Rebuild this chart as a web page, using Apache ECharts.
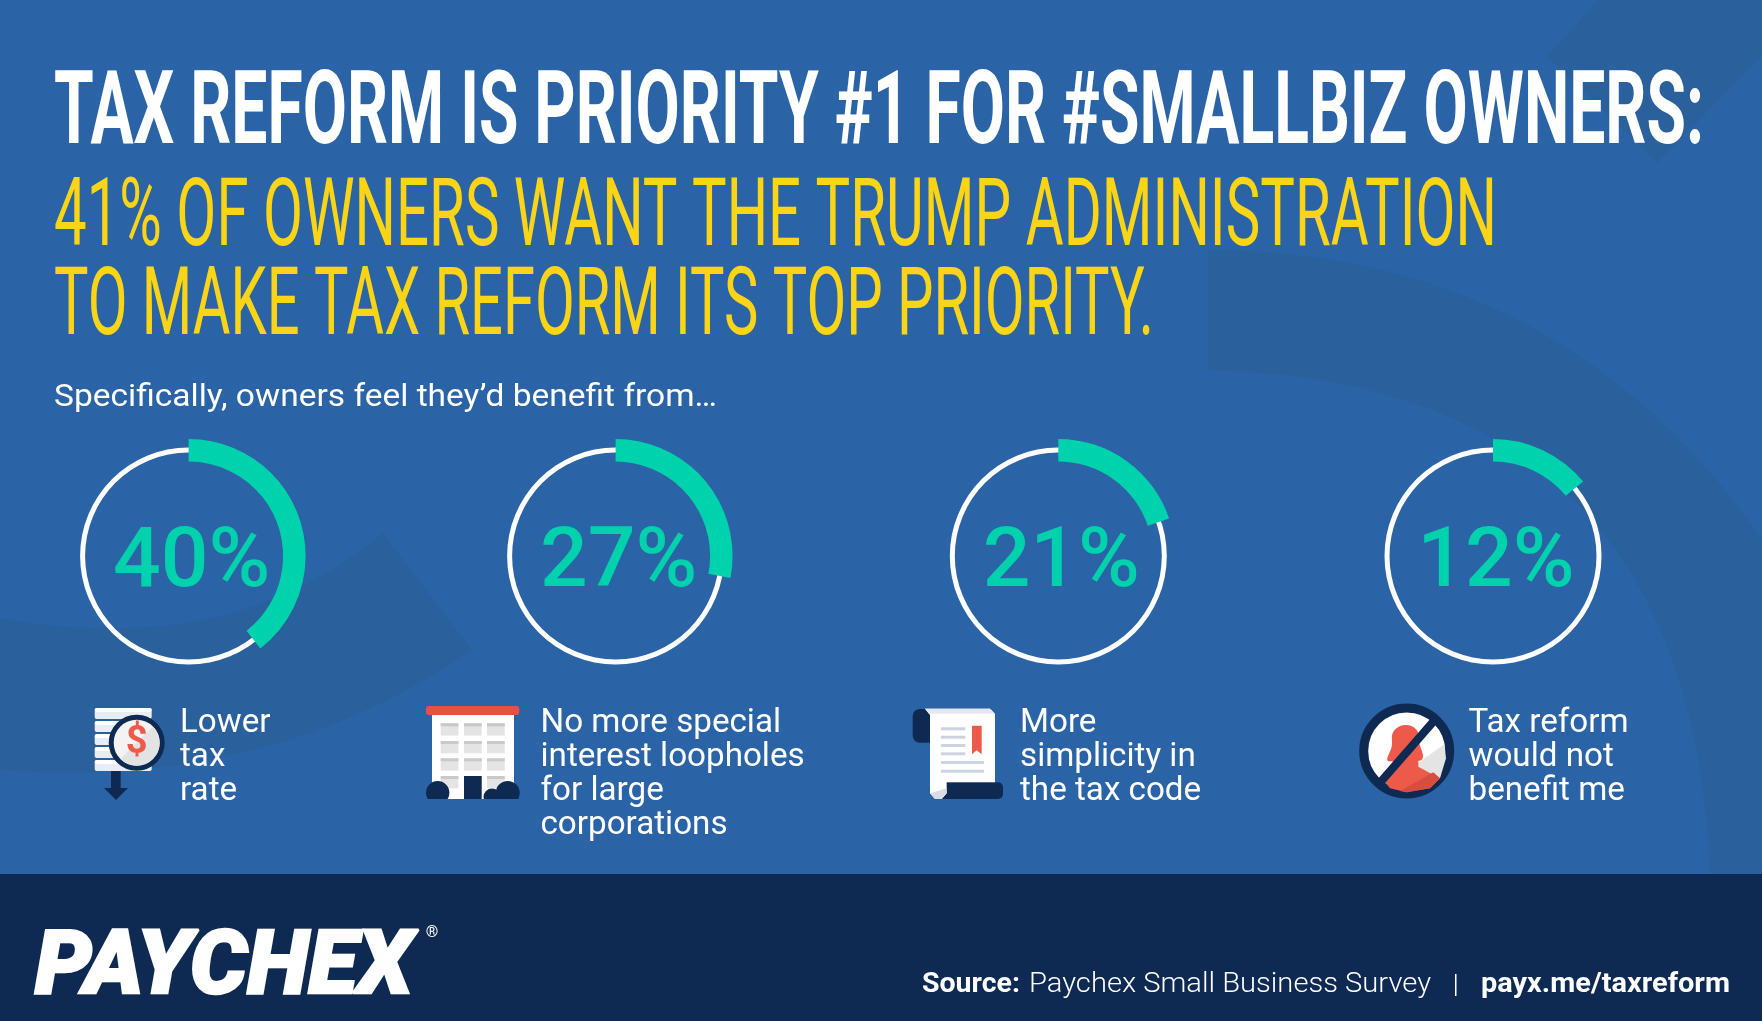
<!DOCTYPE html>
<html>
<head>
<meta charset="utf-8">
<script src="https://cdn.jsdelivr.net/npm/echarts@6/dist/echarts.min.js"></script>
<style>
  html, body { margin: 0; padding: 0; background: #2b64a6; }
  #chart { width: 1762px; height: 1021px; }
</style>
</head>
<body>
<div id="chart"></div>
<script>
// Data
var shareLabels = ['40%', '27%', '21%', '12%'];
// the arcs are not drawn quite to the printed numbers, these are the measured sweeps
var arcShares = [39.5, 28, 19.8, 14];
var centersX = [188.6, 615.6, 1058.3, 1493];
var captions = [
  ['Lower', 'tax', 'rate'],
  ['No more special', 'interest loopholes', 'for large', 'corporations'],
  ['More', 'simplicity in', 'the tax code'],
  ['Tax reform', 'would not', 'benefit me']
];
var captionX = [180, 540.5, 1020, 1468.5];

var BG = '#2b64a6', SHADE = '#2a619d', NAVY = '#0f2a52', GREEN = '#00d2ad', YELLOW = '#fbd415', RED = '#ee5a4a';
var FONT = 'Roboto, sans-serif';
var CY = 556;

var ctx = document.createElement('canvas').getContext('2d');
function fitX(text, weight, size, width) {
  ctx.font = weight + ' ' + size + 'px Roboto';
  return width / ctx.measureText(text).width;
}
function txt(text, x, y, size, weight, fill, width, align) {
  var el = {
    type: 'text', x: x, y: y, silent: true,
    style: { text: text, fontFamily: FONT, fontSize: size, fontWeight: weight, fill: fill,
      align: align || 'left', verticalAlign: 'middle' }
  };
  if (width) el.scaleX = fitX(text, weight, size, width);
  return el;
}
function rect(x, y, w, h, fill, r) {
  return { type: 'rect', silent: true, shape: { x: x, y: y, width: w, height: h, r: r || 0 }, style: { fill: fill } };
}
function circle(cx, cy, r, fill, stroke, lw) {
  return { type: 'circle', silent: true, shape: { cx: cx, cy: cy, r: r }, style: { fill: fill, stroke: stroke, lineWidth: lw || 0 } };
}
function poly(points, fill, smooth) {
  return { type: 'polygon', silent: true, shape: { points: points, smooth: smooth || 0 }, style: { fill: fill } };
}
// quadratic edge for the background swooshes
function q(a, c, b) {
  var out = [];
  for (var i = 0; i <= 24; i++) {
    var t = i / 24, u = 1 - t;
    out.push([u * u * a[0] + 2 * u * t * c[0] + t * t * b[0], u * u * a[1] + 2 * u * t * c[1] + t * t * b[1]]);
  }
  return out;
}
function z(ox, oy, list) {
  return list.map(function (p) { return [ox + p[0] / 3, oy + p[1] / 3]; });
}

var g = [];

// background shapes
g.push(poly(q([0, 618], [230, 660], [383, 533]).concat(q([472, 650], [270, 790], [0, 770])), SHADE));
g.push(poly([[1208, 250]].concat(q([1208, 250], [1560, 250], [1762, 539])).concat([[1762, 874], [1710, 874]])
  .concat(q([1710, 874], [1690, 380], [1208, 370])), SHADE));
g.push(poly([[1598, 0], [1547, 56], [1657, 163], [1762, 56], [1762, 0]], SHADE));
g.push(rect(0, 874, 1762, 147, NAVY));

// headline
g.push(txt('TAX REFORM IS PRIORITY #1 FOR #SMALLBIZ OWNERS:', 54, 117, 102, 700, '#fff', 1650));
g.push(txt('41% OF OWNERS WANT THE TRUMP ADMINISTRATION', 54, 221, 94, 400, YELLOW, 1443));
g.push(txt('TO MAKE TAX REFORM ITS TOP PRIORITY.', 54, 310, 94, 400, YELLOW, 1100));
g.push(txt('Specifically, owners feel they\u2019d benefit from\u2026', 54, 398, 32, 400, '#fff', 663));

// captions under the rings
captions.forEach(function (lines, i) {
  lines.forEach(function (line, k) {
    g.push(txt(line, captionX[i], 723.5 + k * 34, 33.2, 400, '#fff'));
  });
});

// coin stack icon
[708, 721, 734, 747, 760].forEach(function (y) {
  g.push(rect(94.7, y, 57, 11, '#e9edf3', 2));
  g.push(rect(94.7, y, 57, 4, '#ffffff', 2));
});
g.push(rect(111, 771, 9.7, 18, NAVY));
g.push(poly([[104, 788], [128, 788], [116, 800]], NAVY));
g.push(circle(136.7, 742.7, 25.5, '#f3f3f3', NAVY, 5));
g.push({ type: 'sector', silent: true, shape: { cx: 136.7, cy: 742.7, r0: 0, r: 23, startAngle: -Math.PI / 4, endAngle: Math.PI * 3 / 4 }, style: { fill: '#e3e3e3' } });
g.push(txt('$', 136.7, 743, 38, 700, RED, null, 'center'));

// building icon
g.push(rect(432, 715, 82, 84, '#ffffff'));
g.push(rect(426, 706, 93.3, 9, '#e8503f', 3));
[440.7, 464, 487].forEach(function (x) {
  [723.3, 741, 758.3, 776].forEach(function (y) {
    g.push(rect(x, y, 17.7, 12.3, '#e4e4e4'));
    g.push(rect(x, y, 17.7, 3, '#c9c9c9'));
  });
});
g.push(rect(464, 776, 17.7, 23, NAVY));
g.push(circle(437.7, 792.7, 11.7, NAVY));
g.push(circle(492, 797, 8.5, NAVY));
g.push(circle(507.7, 793, 12, NAVY));
g.push(rect(424, 799, 97, 8, BG));

// scroll icon
g.push(rect(912.7, 709, 22, 33.7, NAVY, 7));
g.push(rect(935, 782.3, 68, 16.7, NAVY, 5));
g.push(poly(z(905, 695, [[60, 41], [255, 41], [270, 56], [270, 262], [125, 262], [125, 295], [110, 312], [90, 312], [75, 295], [75, 60]]), '#ffffff'));
g.push(poly(z(905, 695, [[60, 41], [255, 41], [270, 56], [72, 56]]), '#e4e7ee'));
g.push(poly(z(905, 695, [[75, 295], [125, 280], [125, 295], [110, 312], [90, 312]]), '#d9dde5'));
[727.3, 735.7, 744, 752.3].forEach(function (y) { g.push(rect(941, y, 24.3, 3, '#cdd3df')); });
[761, 769.7].forEach(function (y) { g.push(rect(941, y, 43, 3, '#cdd3df')); });
g.push(poly(z(905, 695, [[201, 92], [230, 92], [230, 178], [215, 166], [201, 178]]), RED));

// crossed out person icon
g.push(circle(1406.7, 751, 43, '#ffffff', NAVY, 9));
g.push(poly(z(1350, 695, [[283, 148], [195, 210], [270, 250], [288, 190]]), '#e4e4e4'));
g.push(poly(z(1350, 695, [[92, 245], [130, 215], [165, 195], [205, 195], [205, 215], [270, 250], [240, 280], [170, 292], [120, 280]]), RED));
g.push(poly(z(1350, 695, [[112, 195], [125, 155], [130, 110], [165, 90], [200, 105], [208, 145], [218, 190], [190, 200], [130, 200]]), RED, 0.4));
g.push(poly(z(1350, 695, [[150, 288], [250, 232], [270, 250], [240, 280], [170, 292]]), '#d44f40'));
g.push({ type: 'line', silent: true, shape: { x1: 1433, y1: 722, x2: 1378, y2: 785 }, style: { stroke: NAVY, lineWidth: 8 } });

// footer
g.push({
  type: 'text', x: 35, y: 971, silent: true, scaleX: fitX('PAYCHEX', 900, 89, 390),
  style: { text: 'PAYCHEX', fontFamily: FONT, fontSize: 89, fontWeight: 900, fontStyle: 'italic', fill: '#fff',
    stroke: '#fff', lineWidth: 2.5, verticalAlign: 'middle' }
});
g.push(txt('\u00ae', 432, 933, 16, 400, '#fff', null, 'center'));
g.push(txt('Source:', 922, 985, 28, 700, '#fff', 98));
g.push(txt('Paychex Small Business Survey', 1029, 985, 28, 300, '#fff', 402));
g.push(rect(1455, 974, 1.5, 22, '#fff'));
g.push(txt('payx.me/taxreform', 1481, 985, 28, 700, '#fff', 249));

var series = [];
arcShares.forEach(function (v, i) {
  series.push({
    type: 'pie', silent: true, animation: false, center: [centersX[i], CY], radius: [103.5, 108.5],
    label: { show: false }, labelLine: { show: false },
    itemStyle: { color: '#fff' }, data: [100]
  });
  series.push({
    type: 'pie', silent: true, animation: false, center: [centersX[i], CY], radius: [94.5, 117],
    startAngle: 90, clockwise: true,
    labelLine: { show: false },
    data: [
      { value: v, name: shareLabels[i], itemStyle: { color: GREEN },
        label: { show: true, position: 'center', formatter: '{b}', offset: [3, 9], fontFamily: FONT, fontSize: 84, fontWeight: 500, color: GREEN } },
      { value: 100 - v, name: 'rest', itemStyle: { color: 'rgba(0,0,0,0)' }, label: { show: false } }
    ]
  });
});

var myChart = echarts.init(document.getElementById('chart'));
myChart.setOption({
  backgroundColor: BG,
  animation: false,
  tooltip: { show: false },
  graphic: { elements: g },
  series: series
});
</script>
</body>
</html>
